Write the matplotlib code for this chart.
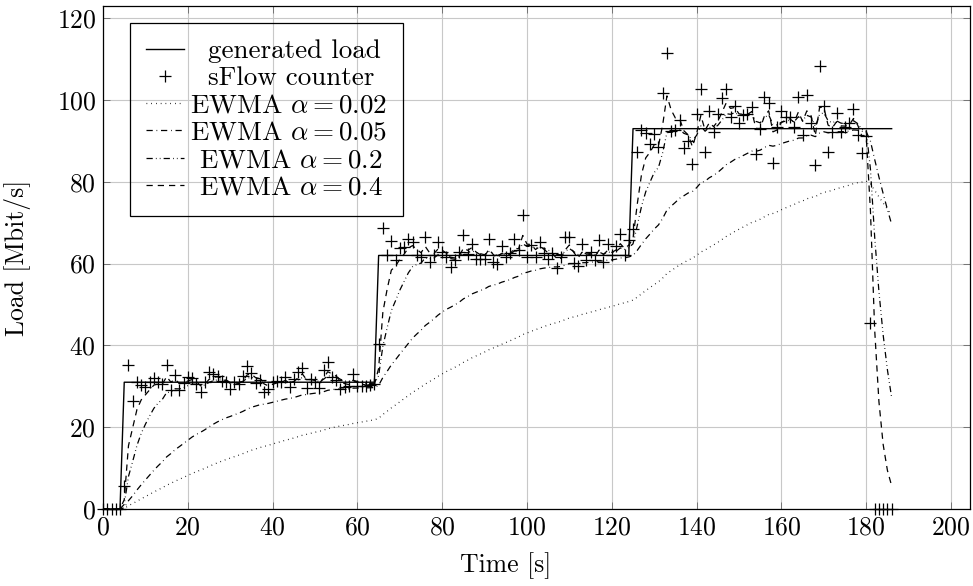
import numpy as np
import pandas as pd
import matplotlib
matplotlib.use('Agg')
import matplotlib.pyplot as plt

plt.rcParams['font.family'] = 'cmr10'
plt.rcParams['mathtext.fontset'] = 'cm'
plt.rcParams['axes.unicode_minus'] = False
plt.rcParams['axes.formatter.use_mathtext'] = True

# generated load (step profile)
genTime = [0, 4, 5, 64, 65, 124, 125, 186]
genLoad = [0, 0, 31, 31, 62, 62, 93, 93]

# sFlow counter, one sample per second, t = 0 .. 186
sflowLoad = [
    0, 0, 0, 0, 0,
    5.7, 35.3, 26.5, 31.0, 30.2, 29.8, 31.0, 32.0, 31.0, 30.5,
    35.1, 29.0, 32.7, 29.2, 30.8, 32.2, 32.1, 30.5, 28.6, 31.0,
    33.5, 33.0, 32.5, 31.4, 31.0, 29.4, 31.0, 30.5, 32.5, 34.9,
    33.2, 30.8, 31.6, 28.6, 29.4, 31.0, 31.4, 31.0, 32.3, 29.8,
    31.7, 33.5, 34.4, 29.6, 31.7, 31.0, 29.6, 34.0, 35.9, 32.3,
    31.6, 29.3, 29.8, 30.1, 33.0, 30.0, 30.0, 30.0, 30.3, 30.5,
    40.4, 68.8, 62.0, 65.5, 60.8, 63.7, 64.1, 66.1, 65.3, 62.0,
    61.5, 66.5, 60.4, 62.0, 65.3, 62.8, 61.5, 59.2, 60.8, 62.8,
    66.9, 62.4, 64.9, 61.2, 61.2, 61.2, 66.1, 60.4, 60.0, 64.2,
    61.6, 62.5, 66.1, 63.3, 71.8, 61.6, 64.5, 61.6, 65.3, 62.5,
    61.2, 62.6, 59.0, 61.6, 66.4, 66.4, 60.1, 59.3, 64.9, 60.8,
    62.8, 60.8, 65.7, 60.4, 64.9, 62.0, 64.2, 67.2, 62.0, 65.7,
    68.5, 87.2, 92.6, 92.0, 89.3, 91.7, 88.5, 101.7, 111.6, 92.4,
    92.6, 95.0, 88.2, 90.0, 84.3, 96.7, 102.8, 87.2, 97.2, 92.1,
    96.7, 100.4, 102.8, 95.9, 98.5, 94.3, 96.3, 96.5, 98.2, 86.9,
    93.0, 100.8, 99.2, 84.5, 93.4, 97.3, 95.9, 95.9, 93.3, 100.8,
    91.4, 101.2, 94.3, 84.1, 108.4, 98.5, 87.3, 92.2, 96.9, 92.2,
    93.5, 94.3, 97.9, 91.4, 87.1, 91.2, 45.6,
    0, 0, 0, 0, 0,
]
sflowTime = np.arange(len(sflowLoad))

alphas = [0.02, 0.05, 0.2, 0.4]
ewmaStyles = [(0, (0.6, 3.2)), (0, (5, 3, 0.6, 3)), (0, (5, 2.5, 0.6, 2.5, 0.6, 2.5)), (0, (5, 4))]
labelPad = ['', '', ' ', ' ']

fig = plt.figure(figsize=(9.73, 5.86), dpi=100)
ax = fig.add_axes([0.1059, 0.1314, 0.8911, 0.8584])

ax.plot(genTime, genLoad, color='black', lw=1.0, label='  generated load')
ax.plot(sflowTime, sflowLoad, ls='none', marker='+', ms=8.5, mew=0.9, color='black',
        label='  sFlow counter', clip_on=False)

sflowSeries = pd.Series(sflowLoad, index=sflowTime)
for alpha, style, pad in zip(alphas, ewmaStyles, labelPad):
    ewma = sflowSeries.ewm(alpha=alpha, adjust=False).mean()
    ax.plot(ewma.index, ewma.values, color='black', lw=0.9, ls=style,
            label=pad + r'EWMA $\alpha = %s$' % alpha)

ax.set_xlim(0, 204.5)
ax.set_ylim(0, 123)
ax.set_xticks(np.arange(0, 201, 20))
ax.set_yticks(np.arange(0, 121, 20))
ax.grid(True, color='#c8c8c8', lw=0.8)
ax.set_axisbelow(True)
ax.tick_params(direction='in', top=True, right=True, length=5, width=0.6,
               color='#666666', labelsize=18.5, pad=5)
for spine in ax.spines.values():
    spine.set_linewidth(0.9)

ax.set_xlabel('Time [s]', fontsize=18.5)
ax.set_ylabel('Load [Mbit/s]', fontsize=18.5)
ax.xaxis.set_label_coords(0.464, -0.085)
ax.yaxis.set_label_coords(-0.083, 0.5)

legend = ax.legend(loc='upper left', bbox_to_anchor=(0.031, 0.966), fontsize=19.5,
                   frameon=True, fancybox=False, framealpha=1, edgecolor='black',
                   handlelength=1.4, handletextpad=0.2, labelspacing=0.12,
                   borderpad=0.6, borderaxespad=0)
legend.get_frame().set_facecolor('none')
legend.get_frame().set_linewidth(0.9)

plt.savefig('out.png', dpi=100)
